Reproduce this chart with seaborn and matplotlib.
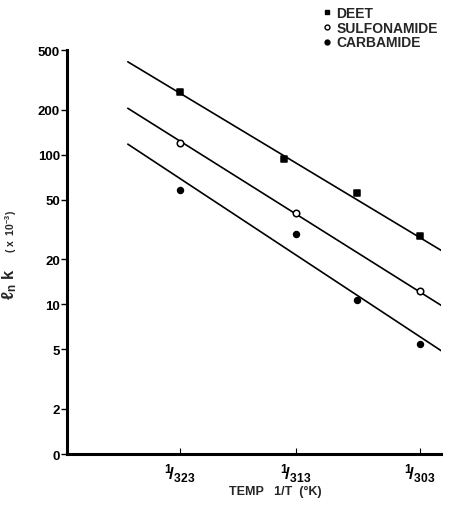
import numpy as np
import pandas as pd
import matplotlib
matplotlib.use("Agg")
import matplotlib.pyplot as plt
import seaborn as sns

# ---------------- data ----------------
series_names = ["DEET", "SULFONAMIDE", "CARBAMIDE"]

deet_T = [323, 314, 308, 303]           # temperature, K
deet_k = [263, 94, 55, 28.4]            # k (x 10^-3)

sulf_T = [323, 313, 303]
sulf_k = [119, 40.6, 12.3]

carb_T = [323, 313, 308, 303]
carb_k = [58, 29.7, 10.7, 5.4]

# hand-drawn fitted lines: end points
fit_T = [327.7, 301.2]
deet_fit = [417, 22.5]
sulf_fit = [204, 9.65]
carb_fit = [117.5, 4.8]

x_tick_T = [323, 313, 303]
x_tick_labels = [r"$^{1}\!/_{323}$", r"$^{1}\!/_{313}$", r"$^{1}\!/_{303}$"]
y_ticks = [1, 2, 5, 10, 20, 50, 100, 200, 500]
y_tick_labels = ["0", "2", "5", "10", "20", "50", "100", "200", "500"]

# ---------------- tables ----------------
pts = pd.concat([
    pd.DataFrame({"series": "DEET", "invT": 1 / np.array(deet_T, float), "k": deet_k}),
    pd.DataFrame({"series": "SULFONAMIDE", "invT": 1 / np.array(sulf_T, float), "k": sulf_k}),
    pd.DataFrame({"series": "CARBAMIDE", "invT": 1 / np.array(carb_T, float), "k": carb_k}),
], ignore_index=True)

fits = pd.concat([
    pd.DataFrame({"series": "DEET", "invT": 1 / np.array(fit_T, float), "k": deet_fit}),
    pd.DataFrame({"series": "SULFONAMIDE", "invT": 1 / np.array(fit_T, float), "k": sulf_fit}),
    pd.DataFrame({"series": "CARBAMIDE", "invT": 1 / np.array(fit_T, float), "k": carb_fit}),
], ignore_index=True)

# ---------------- style ----------------
sns.set_theme(style="white")
plt.rcParams["font.family"] = ["Liberation Sans", "DejaVu Sans"]
plt.rcParams["font.weight"] = "bold"
plt.rcParams["mathtext.fontset"] = "custom"
plt.rcParams["mathtext.rm"] = "Liberation Sans:bold"
plt.rcParams["mathtext.it"] = "Liberation Sans:bold"
plt.rcParams["mathtext.bf"] = "Liberation Sans:bold"

fig = plt.figure(figsize=(4.51, 5.10), dpi=100)
ax = fig.add_axes([67 / 451, 1 - 455 / 510, 374 / 451, 404 / 510])

for name in series_names:
    sns.lineplot(data=fits[fits.series == name], x="invT", y="k", color="black",
                 linewidth=1.2, ax=ax, legend=False, zorder=2)

styles = {
    "DEET": dict(marker="s", facecolor="black", edgecolor="black", s=22),
    "SULFONAMIDE": dict(marker="o", facecolor="white", edgecolor="black", s=22),
    "CARBAMIDE": dict(marker="o", facecolor="black", edgecolor="black", s=18),
}
handles = []
for name in series_names:
    st = styles[name]
    sns.scatterplot(data=pts[pts.series == name], x="invT", y="k", ax=ax,
                    marker=st["marker"], color=st["facecolor"], edgecolor=st["edgecolor"],
                    s=st["s"], linewidth=1.1, zorder=3, legend=False)
    handles.append(plt.Line2D([], [], linestyle="none", marker=st["marker"],
                              markerfacecolor=st["facecolor"], markeredgecolor=st["edgecolor"],
                              markersize=3.5, markeredgewidth=1.0, label=name))

ax.set_yscale("log")
ax.set_ylim(1, 500)
ax.set_xlim(0.0029998, 0.0033182)

ax.set_yticks(y_ticks)
ax.set_yticklabels(y_tick_labels, fontsize=9.5, fontweight="bold")
ax.yaxis.set_minor_locator(matplotlib.ticker.NullLocator())
ax.set_xticks(1 / np.array(x_tick_T, float))
ax.set_xticklabels(x_tick_labels, fontsize=12.5)

ax.tick_params(axis="y", direction="out", length=4, width=1, pad=1, left=True, colors="black")
ax.tick_params(axis="x", direction="in", length=4, width=0.8, pad=5, bottom=True, colors="black")

for side in ["top", "right"]:
    ax.spines[side].set_visible(False)
for side in ["left", "bottom"]:
    ax.spines[side].set_linewidth(2.2)
    ax.spines[side].set_color("black")

ax.set_xlabel("TEMP   1/T  (°K)", fontsize=9, fontweight="bold")
ax.xaxis.set_label_coords((275 - 67) / 374, -(486 - 455) / 404)
ax.set_ylabel("")

fig.text(19 / 451, 1 - 284 / 510, r"$\ell_{n}$ k", rotation=90, fontsize=12,
         ha="right", va="center", fontweight="bold")
fig.text(19 / 451, 1 - 232 / 510, r"( x  10$^{-3}$)", rotation=90, fontsize=7.5,
         ha="right", va="center", fontweight="bold")

fig.legend(handles=handles, loc="upper left", bbox_to_anchor=(323 / 451, 1 - 7 / 510),
           frameon=False, handlelength=0.6, handletextpad=0.35,
           labelspacing=0.05, borderpad=0, borderaxespad=0, prop={"weight": "bold", "size": 10})

fig.savefig("out.png", dpi=100)
